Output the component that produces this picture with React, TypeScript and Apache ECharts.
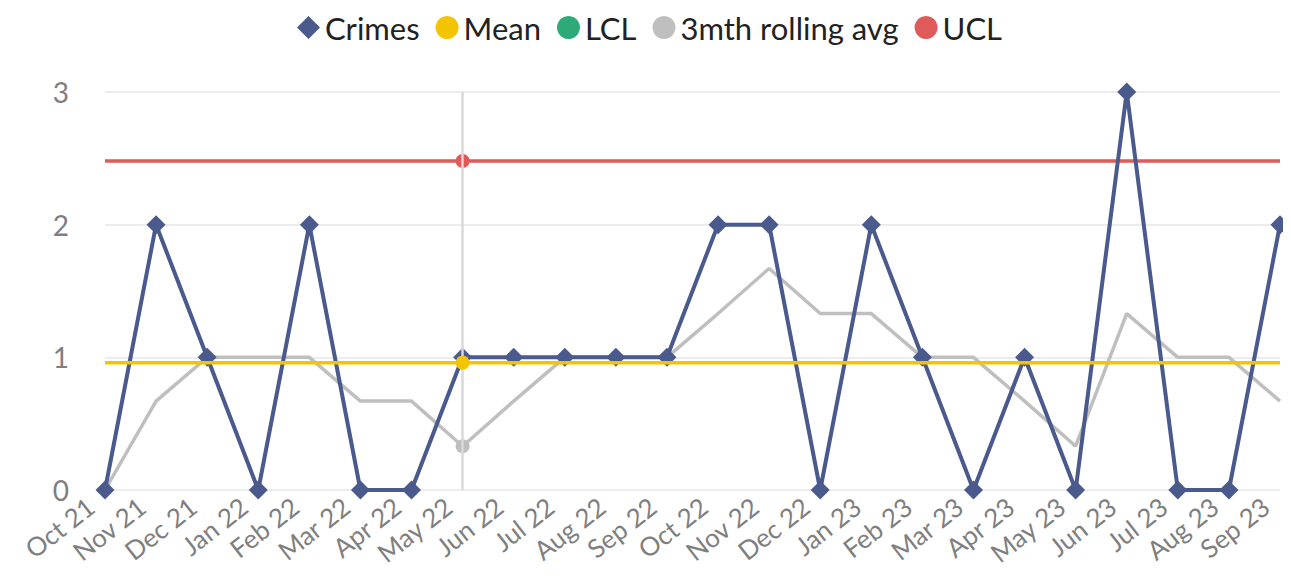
import React, { useEffect, useRef } from "react";
import * as echarts from "echarts";

const months = ["Oct 21","Nov 21","Dec 21","Jan 22","Feb 22","Mar 22","Apr 22","May 22","Jun 22","Jul 22","Aug 22","Sep 22","Oct 22","Nov 22","Dec 22","Jan 23","Feb 23","Mar 23","Apr 23","May 23","Jun 23","Jul 23","Aug 23","Sep 23"];
const crimes = [0,2,1,0,2,0,0,1,1,1,1,1,2,2,0,2,1,0,1,0,3,0,0,2];
const rolling = [0,0.67,1,1,1,0.67,0.67,0.33,0.67,1,1,1,1.33,1.67,1.33,1.33,1,1,0.67,0.33,1.33,1,1,0.67];
const meanVal = 0.96;
const uclVal = 2.48;
const lclVal = -0.56;
const highlightIndex = 7;

const mean = months.map(() => meanVal);
const ucl = months.map(() => uclVal);
const lcl = months.map(() => lclVal);

const FONT = "Lato";

export default function App() {
  const ref = useRef<HTMLDivElement>(null);
  useEffect(() => {
    if (!ref.current) return;
    const chart = echarts.init(ref.current, undefined, { renderer: "svg" });
    const hl = (size: number) => (_v: any, p: any) => (p.dataIndex === highlightIndex ? size : 0);
    chart.setOption({
      animation: false,
      textStyle: { fontFamily: FONT },
      legend: {
        top: -1,
        left: "center",
        itemWidth: 23,
        itemHeight: 23,
        itemGap: 16,
        textStyle: { fontSize: 31, color: "#222", fontFamily: FONT },
        data: [
          { name: "Crimes", icon: "diamond" },
          { name: "Mean", icon: "circle" },
          { name: "LCL", icon: "circle" },
          { name: "3mth rolling avg", icon: "circle" },
          { name: "UCL", icon: "circle" },
        ],
      },
      grid: { left: 97, right: 11, top: 84, bottom: 88 },
      xAxis: {
        type: "category",
        data: months,
        boundaryGap: false,
        axisLine: { show: false },
        axisTick: { show: false },
        axisLabel: { rotate: 38, fontSize: 26, color: "#7f7f7f", margin: 2, padding: [0, 18, 0, 0], interval: 0, fontFamily: FONT },
        splitLine: { show: false },
      },
      yAxis: {
        type: "value",
        min: 0,
        max: 3,
        interval: 1,
        axisLine: { show: false },
        axisTick: { show: false },
        axisLabel: { fontSize: 28, color: "#7f7f7f", margin: 36, fontFamily: FONT },
        splitLine: { lineStyle: { color: "#e6e6e6", width: 1.5 } },
      },
      series: [
        {
          name: "LCL",
          type: "line",
          data: lcl,
          color: "#2eaa78",
          symbol: "none",
          lineStyle: { width: 3, color: "#2eaa78" },
          z: 1,
          markLine: {
            silent: true,
            symbol: "none",
            label: { show: false },
            lineStyle: { color: "#d9d9d9", width: 2.5, type: "solid" },
            data: [{ xAxis: highlightIndex }],
          },
        },
        {
          name: "UCL",
          type: "line",
          data: ucl,
          color: "#e05a5a",
          symbol: "circle",
          symbolSize: hl(14),
          itemStyle: { color: "#e05a5a" },
          lineStyle: { width: 3.5, color: "#e05a5a" },
          z: 2,
        },
        {
          name: "3mth rolling avg",
          type: "line",
          data: rolling,
          color: "#bfbfbf",
          symbol: "circle",
          symbolSize: hl(14),
          itemStyle: { color: "#bfbfbf" },
          lineStyle: { width: 3.5, color: "#bfbfbf" },
          z: 3,
        },
        {
          name: "Crimes",
          type: "line",
          data: crimes,
          color: "#4a5a8c",
          symbol: "diamond",
          symbolSize: 19,
          itemStyle: { color: "#4a5a8c" },
          lineStyle: { width: 4, color: "#4a5a8c" },
          z: 4,
        },
        {
          name: "Mean",
          type: "line",
          data: mean,
          color: "#f5c400",
          symbol: "circle",
          symbolSize: hl(14),
          itemStyle: { color: "#f5c400" },
          lineStyle: { width: 3.5, color: "#f5c400" },
          z: 5,
        },
      ],
    });
    return () => chart.dispose();
  }, []);
  return <div ref={ref} style={{ width: 1283, height: 570 }} />;
}
